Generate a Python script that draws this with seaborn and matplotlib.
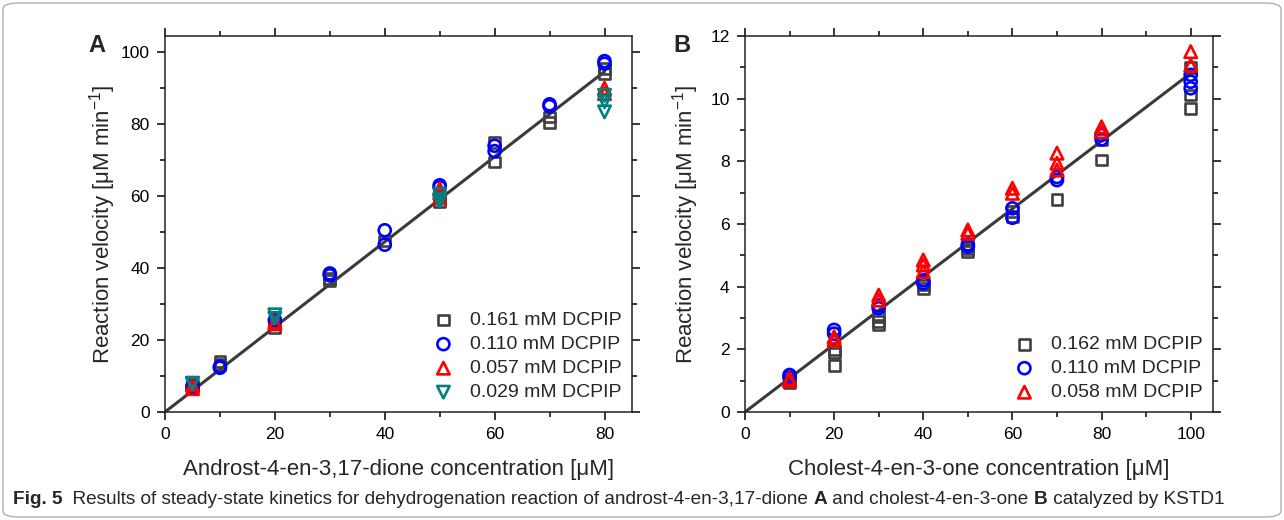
import matplotlib
matplotlib.use("Agg")
import matplotlib.pyplot as plt
from matplotlib.patches import FancyBboxPatch
from matplotlib.ticker import MultipleLocator
import seaborn as sns
import pandas as pd

# Panel A: androst-4-en-3,17-dione
a_sq_x = [5, 5, 10, 10, 20, 20, 30, 30, 40, 50, 50, 60, 60, 70, 70, 80, 80]
a_sq_y = [7.5, 6.8, 14.0, 13.2, 23.5, 25.0, 37.0, 36.5, 47.5, 58.5, 60.0, 75.0, 69.5, 82.0, 80.5, 94.0, 95.5]
a_ci_x = [5, 5, 10, 10, 20, 30, 30, 40, 40, 50, 50, 60, 60, 70, 70, 80, 80]
a_ci_y = [7.2, 6.5, 12.6, 12.3, 25.5, 38.5, 38.0, 50.5, 46.5, 62.5, 63.0, 72.5, 74.0, 85.0, 85.5, 97.5, 96.8]
a_up_x = [5, 5, 20, 20, 50, 50, 50, 80, 80]
a_up_y = [7.5, 6.5, 25.0, 24.5, 61.0, 59.5, 62.0, 90.0, 88.5]
a_dn_x = [5, 5, 20, 20, 50, 50, 50, 80, 80, 80]
a_dn_y = [7.8, 8.0, 27.0, 26.0, 59.0, 60.5, 58.5, 88.0, 86.2, 83.4]
a_fit_x = [0, 80]
a_fit_y = [0, 94.6]
a_labels = ["0.161 mM DCPIP", "0.110 mM DCPIP", "0.057 mM DCPIP", "0.029 mM DCPIP"]

# Panel B: cholest-4-en-3-one
b_sq_x = [10, 10, 20, 20, 20, 30, 30, 30, 40, 40, 50, 50, 60, 60, 70, 80, 80, 100, 100, 100]
b_sq_y = [0.95, 1.0, 1.98, 1.88, 1.48, 3.04, 2.9, 2.78, 3.95, 4.05, 5.12, 5.2, 6.25, 6.4, 6.77, 8.04, 8.7, 10.12, 9.69, 11.0]
b_ci_x = [10, 10, 20, 20, 30, 30, 40, 40, 50, 50, 60, 60, 70, 70, 80, 80, 100, 100, 100]
b_ci_y = [1.18, 1.1, 2.62, 2.5, 3.31, 3.4, 4.11, 4.2, 5.28, 5.35, 6.5, 6.2, 7.5, 7.4, 8.84, 8.7, 10.76, 10.54, 10.33]
b_up_x = [10, 10, 20, 20, 30, 30, 40, 40, 40, 50, 50, 60, 60, 70, 70, 70, 80, 80, 100, 100]
b_up_y = [1.07, 1.0, 2.4, 2.3, 3.73, 3.57, 4.85, 4.69, 4.48, 5.81, 5.7, 7.14, 6.98, 8.26, 7.94, 7.72, 9.1, 8.95, 11.5, 11.07]
b_fit_x = [0, 100]
b_fit_y = [0, 10.81]
b_labels = ["0.162 mM DCPIP", "0.110 mM DCPIP", "0.058 mM DCPIP"]

sns.set_theme(style="ticks")
plt.rcParams["font.family"] = ["Liberation Sans", "DejaVu Sans"]
plt.rcParams["mathtext.fontset"] = "custom"
plt.rcParams["mathtext.rm"] = "Liberation Sans"
plt.rcParams["mathtext.it"] = "Liberation Sans:italic"

colors = ["#404040", "#0000ff", "#ff0000", "#008080"]
markers = ["s", "o", "^", "v"]
sizes = [60, 75, 80, 80]

fig = plt.figure(figsize=(12.84, 5.2), dpi=100)
axA = fig.add_axes([0.1285, 0.2077, 0.3637, 0.7231])
axB = fig.add_axes([0.5802, 0.2077, 0.3645, 0.7231])


def draw_panel(ax, series, labels, fit_x, fit_y):
    sns.lineplot(x=fit_x, y=fit_y, ax=ax, color="#3a3a3a", lw=2.2, zorder=1)
    for i, (xs, ys) in enumerate(series):
        df = pd.DataFrame({"conc": xs, "vel": ys})
        sns.scatterplot(data=df, x="conc", y="vel", ax=ax, marker=markers[i],
                        s=sizes[i], facecolors="none", edgecolor=colors[i],
                        linewidth=1.9, label=labels[i], zorder=2 + i)
    ax.tick_params(which="both", direction="out", top=True, right=True,
                   labeltop=False, labelright=False, width=1.1, colors="black",
                   labelsize=12.5, pad=5)
    ax.tick_params(which="major", length=6)
    ax.tick_params(which="minor", length=3.5)
    for sp in ax.spines.values():
        sp.set_linewidth(1.1)
        sp.set_color("#222222")
    leg = ax.legend(loc="lower right", frameon=False, fontsize=14,
                    handletextpad=0.85, labelspacing=0.33, borderaxespad=0.15,
                    handlelength=1.0)
    return leg


draw_panel(axA, [(a_sq_x, a_sq_y), (a_ci_x, a_ci_y), (a_up_x, a_up_y), (a_dn_x, a_dn_y)],
           a_labels, a_fit_x, a_fit_y)
axA.set_xlim(0, 85)
axA.set_ylim(0, 104.5)
axA.xaxis.set_major_locator(MultipleLocator(20))
axA.xaxis.set_minor_locator(MultipleLocator(10))
axA.yaxis.set_major_locator(MultipleLocator(20))
axA.yaxis.set_minor_locator(MultipleLocator(10))
axA.set_xlabel("Androst-4-en-3,17-dione concentration [μM]", fontsize=16, labelpad=12)
axA.set_ylabel("Reaction velocity [μM min$^{-1}$]", fontsize=16, labelpad=2)

draw_panel(axB, [(b_sq_x, b_sq_y), (b_ci_x, b_ci_y), (b_up_x, b_up_y)],
           b_labels, b_fit_x, b_fit_y)
axB.set_xlim(0, 105)
axB.set_ylim(0, 12)
axB.xaxis.set_major_locator(MultipleLocator(20))
axB.xaxis.set_minor_locator(MultipleLocator(10))
axB.yaxis.set_major_locator(MultipleLocator(2))
axB.yaxis.set_minor_locator(MultipleLocator(1))
axB.set_xlabel("Cholest-4-en-3-one concentration [μM]", fontsize=16, labelpad=12)
axB.set_ylabel("Reaction velocity [μM min$^{-1}$]", fontsize=16, labelpad=7)

fig.text(97 / 1284, 1 - 46 / 520, "A", fontsize=17, fontweight="bold", ha="center", va="center")
fig.text(682 / 1284, 1 - 46 / 520, "B", fontsize=17, fontweight="bold", ha="center", va="center")

# rounded frame around the figure
frame = FancyBboxPatch((3 / 1284, 3 / 520), 1 - 6 / 1284, 1 - 6 / 520,
                       boxstyle="round,pad=0,rounding_size=0.012",
                       transform=fig.transFigure, fill=False,
                       edgecolor="#b0b0b0", lw=1.0)
fig.patches.append(frame)

# caption built from pieces (bold / regular)
cap_font = ["Liberation Sans Narrow", "Liberation Sans", "DejaVu Sans"]
pieces = [("Fig. 5", True), ("  Results of steady-state kinetics for dehydrogenation reaction of androst-4-en-3,17-dione ", False),
          ("A", True), (" and cholest-4-en-3-one ", False), ("B", True), (" catalyzed by KSTD1", False)]
fig.canvas.draw()
renderer = fig.canvas.get_renderer()
xpos = 13
for txt, bold in pieces:
    t = fig.text(xpos / 1284, 1 - 500 / 520, txt, fontsize=13.7, family=cap_font,
                 fontweight="bold" if bold else "normal", va="center", ha="left")
    bb = t.get_window_extent(renderer=renderer)
    xpos += bb.width

fig.savefig("out.png", dpi=100)
